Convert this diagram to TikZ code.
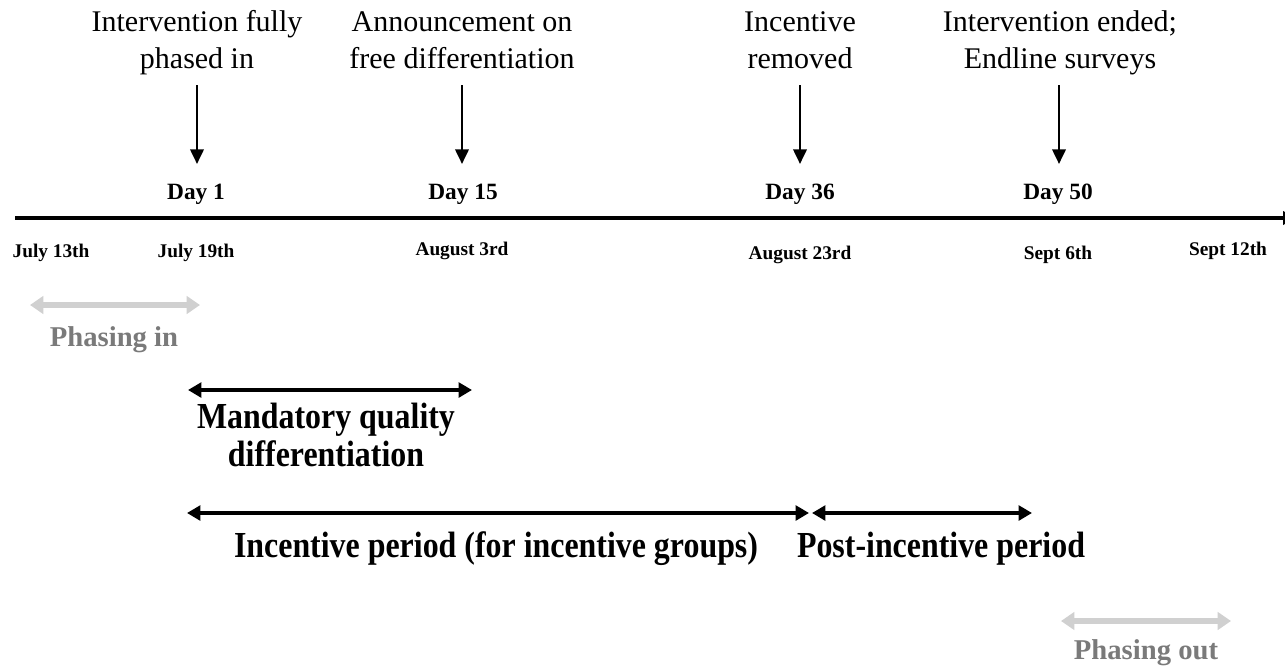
\documentclass[tikz,border=0pt]{standalone}
\usepackage{fontspec}
\setmainfont{Liberation Serif}
\newfontfamily\condfont[FakeStretch=0.87]{Liberation Serif}
\usetikzlibrary{arrows.meta}
\definecolor{lightgr}{HTML}{D0D0D0}
\definecolor{darkgr}{HTML}{7A7A7A}
\begin{document}
\begin{tikzpicture}[x=0.75pt,y=-0.75pt,
  toptext/.style={anchor=base, align=center, inner sep=0pt, font=\fontsize{22.5}{27.5}\selectfont},
  daytext/.style={anchor=base, inner sep=0pt, font=\bfseries\fontsize{17.5}{21}\selectfont},
  datetext/.style={anchor=base, inner sep=0pt, font=\bfseries\fontsize{14.5}{17}\selectfont},
  phasetext/.style={anchor=base, inner sep=0pt, text=darkgr, font=\bfseries\fontsize{21.5}{26}\selectfont},
  condtext/.style={anchor=base, align=center, inner sep=0pt, font=\condfont\bfseries\fontsize{27.5}{28.5}\selectfont},
  downarrow/.style={line width=2pt, -{Triangle[length=11pt,width=10pt]}},
  spanarrow/.style={line width=3pt, {Triangle[length=10pt,width=11pt]}-{Triangle[length=10pt,width=11pt]}},
  grayarrow/.style={line width=4.5pt, draw=lightgr, {Triangle[length=10pt,width=13pt]}-{Triangle[length=10pt,width=13pt]}},
]
\clip (0,0) rectangle (1285,665);
% timeline
\coordinate (tlA) at (15,218);
\coordinate (tlB) at (1295,218);
\draw[line width=3pt, -{Triangle[length=9pt,width=10pt]}] (tlA) -- (tlB);
% top event texts (base = baseline of last line)
\node[toptext] (e1) at (197,68) {Intervention fully\\phased in};
\node[toptext] (e2) at (462,68) {Announcement on\\free differentiation};
\node[toptext] (e3) at (800,68) {Incentive\\removed};
\node[toptext] (e4) at (1060,68) {Intervention ended;\\Endline surveys};
% down arrows
\coordinate (a1s) at (197,85);  \coordinate (a1e) at (197,164);
\coordinate (a2s) at (462,85);  \coordinate (a2e) at (462,164);
\coordinate (a3s) at (800,85);  \coordinate (a3e) at (800,164);
\coordinate (a4s) at (1059,85); \coordinate (a4e) at (1059,164);
\draw[downarrow] (a1s) -- (a1e);
\draw[downarrow] (a2s) -- (a2e);
\draw[downarrow] (a3s) -- (a3e);
\draw[downarrow] (a4s) -- (a4e);
% day labels
\node[daytext] (d1) at (196,199) {Day 1};
\node[daytext] (d15) at (463,199) {Day 15};
\node[daytext] (d36) at (800,199) {Day 36};
\node[daytext] (d50) at (1058,199) {Day 50};
% dates
\node[datetext] (t1) at (51,257) {July 13th};
\node[datetext] (t2) at (196,257) {July 19th};
\node[datetext] (t3) at (462,255) {August 3rd};
\node[datetext] (t4) at (800,259) {August 23rd};
\node[datetext] (t5) at (1058,259) {Sept 6th};
\node[datetext] (t6) at (1228,255) {Sept 12th};
% phasing in
\coordinate (p1s) at (30,305); \coordinate (p1e) at (200,305);
\draw[grayarrow] (p1s) -- (p1e);
\node[phasetext] (pin) at (114,346) {Phasing in};
% mandatory
\coordinate (m1s) at (188,390); \coordinate (m1e) at (472,390);
\draw[spanarrow] (m1s) -- (m1e);
\node[condtext] (mand) at (326,466) {Mandatory quality\\differentiation};
% incentive periods
\coordinate (i1s) at (187,513); \coordinate (i1e) at (809,513);
\coordinate (i2s) at (812,513); \coordinate (i2e) at (1032,513);
\draw[spanarrow] (i1s) -- (i1e);
\draw[spanarrow] (i2s) -- (i2e);
\node[condtext] (inc) at (496,557) {Incentive period (for incentive groups)};
\node[condtext] (post) at (941,557) {Post-incentive period};
% phasing out
\coordinate (p2s) at (1061,621); \coordinate (p2e) at (1231,621);
\draw[grayarrow] (p2s) -- (p2e);
\node[phasetext] (pout) at (1146,659) {Phasing out};
\end{tikzpicture}
\end{document}
